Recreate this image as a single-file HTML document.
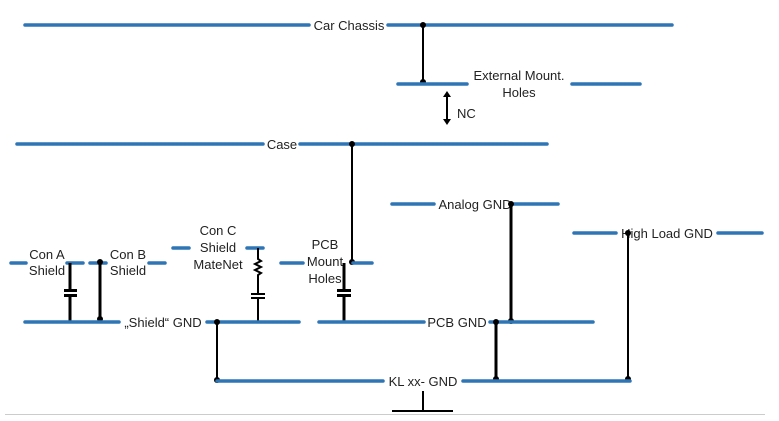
<!DOCTYPE html>
<html><head><meta charset="utf-8"><style>
html,body{margin:0;padding:0;background:#fff;width:779px;height:421px;overflow:hidden}
svg{display:block}
text{font-family:"Liberation Sans",sans-serif;font-size:13px;fill:#222}
.b{stroke:#2e75b6;stroke-width:3.5;fill:none;stroke-linecap:round}
.k{stroke:#000;stroke-width:2;fill:none}
.K{stroke:#000;stroke-width:3;fill:none}
</style></head><body>
<svg width="779" height="421" viewBox="0 0 779 421">
<!-- Car chassis -->
<line class="b" x1="25" y1="25" x2="309" y2="25"/><line class="b" x1="388" y1="25" x2="672" y2="25"/>
<text x="349" y="30" text-anchor="middle">Car Chassis</text>
<line class="k" x1="423" y1="25" x2="423" y2="82"/>
<circle cx="423" cy="25" r="3"/><circle cx="423" cy="82" r="3"/>
<!-- External mount -->
<line class="b" x1="398" y1="84" x2="467" y2="84"/><line class="b" x1="572" y1="84" x2="640" y2="84"/>
<text x="519" y="80" text-anchor="middle">External Mount.</text>
<text x="519" y="97" text-anchor="middle">Holes</text>
<line class="k" x1="447" y1="96" x2="447" y2="120"/>
<polygon points="443,97 451,97 447,91"/><polygon points="443,119 451,119 447,125"/>
<text x="457" y="118">NC</text>
<!-- Case -->
<line class="b" x1="17" y1="144" x2="263" y2="144"/><line class="b" x1="300" y1="144" x2="547" y2="144"/>
<text x="282" y="149" text-anchor="middle">Case</text>
<line class="k" x1="352" y1="144" x2="352" y2="262"/>
<circle cx="352" cy="144" r="3"/><circle cx="352" cy="262" r="3"/>
<!-- Analog -->
<line class="b" x1="392" y1="204" x2="434" y2="204"/><line class="b" x1="514" y1="204" x2="558" y2="204"/>
<text x="475" y="209" text-anchor="middle">Analog GND</text>
<line class="K" x1="511" y1="204" x2="511" y2="321"/>
<circle cx="511" cy="204" r="3"/><circle cx="511" cy="321" r="3"/>
<!-- High load -->
<line class="b" x1="574" y1="233" x2="616" y2="233"/><line class="b" x1="718" y1="233" x2="762" y2="233"/>
<text x="667" y="238" text-anchor="middle">High Load GND</text>
<line class="k" x1="628" y1="233" x2="628" y2="379"/>
<circle cx="628" cy="233" r="3"/><circle cx="628" cy="379" r="3"/>
<!-- Con A / B -->
<line class="b" x1="11" y1="263" x2="26" y2="263"/><line class="b" x1="67" y1="263" x2="83" y2="263"/>
<line class="b" x1="90" y1="263" x2="106" y2="263"/><line class="b" x1="149" y1="263" x2="165" y2="263"/>
<text x="47" y="259" text-anchor="middle">Con A</text><text x="47" y="275" text-anchor="middle">Shield</text>
<text x="128" y="259" text-anchor="middle">Con B</text><text x="128" y="275" text-anchor="middle">Shield</text>
<line class="K" x1="70" y1="263" x2="70" y2="290"/><line class="K" x1="70" y1="296" x2="70" y2="322"/>
<rect x="64" y="289" width="13" height="3"/><rect x="64" y="294" width="13" height="3"/>
<line class="K" x1="100" y1="262" x2="100" y2="319"/>
<circle cx="100" cy="262" r="3"/><circle cx="100" cy="319" r="3"/>
<!-- Con C -->
<line class="b" x1="173" y1="248" x2="189" y2="248"/><line class="b" x1="247" y1="248" x2="263" y2="248"/>
<text x="218" y="235" text-anchor="middle">Con C</text><text x="218" y="252" text-anchor="middle">Shield</text><text x="218" y="269" text-anchor="middle">MateNet</text>
<polyline class="k" points="258,248 258,259 261,261 255,264 261,267 255,270 261,273 258,275 258,293"/>
<rect x="251" y="293" width="14" height="2"/><rect x="251" y="297" width="14" height="2"/>
<line class="k" x1="258" y1="299" x2="258" y2="322"/>
<!-- PCB mount -->
<line class="b" x1="281" y1="263" x2="303" y2="263"/><line class="b" x1="353" y1="263" x2="372" y2="263"/>
<text x="325" y="249" text-anchor="middle">PCB</text><text x="325" y="266" text-anchor="middle">Mount</text><text x="325" y="283" text-anchor="middle">Holes</text>
<line class="K" x1="344" y1="263" x2="344" y2="290"/><line class="K" x1="344" y1="296" x2="344" y2="322"/>
<rect x="337" y="289" width="14" height="3"/><rect x="337" y="294" width="14" height="3"/>
<!-- Shield GND / PCB GND -->
<line class="b" x1="25" y1="322" x2="119" y2="322"/><line class="b" x1="207" y1="322" x2="299" y2="322"/>
<text x="163" y="327" text-anchor="middle">„Shield“ GND</text>
<line class="b" x1="319" y1="322" x2="424" y2="322"/><line class="b" x1="490" y1="322" x2="593" y2="322"/>
<text x="457" y="327" text-anchor="middle">PCB GND</text>
<line class="k" x1="217" y1="322" x2="217" y2="380"/>
<circle cx="217" cy="322" r="3"/><circle cx="217" cy="380" r="3"/>
<line class="K" x1="496" y1="322" x2="496" y2="379"/>
<circle cx="496" cy="322" r="3"/><circle cx="496" cy="379" r="3"/>
<!-- KL -->
<line class="b" x1="217" y1="381" x2="383" y2="381"/><line class="b" x1="463" y1="381" x2="630" y2="381"/>
<text x="423" y="386" text-anchor="middle">KL xx- GND</text>
<line class="k" x1="423" y1="391" x2="423" y2="411"/>
<line class="k" x1="392" y1="411" x2="453" y2="411"/>
<line x1="5" y1="414.5" x2="765" y2="414.5" stroke="#ccc" stroke-width="1"/>
</svg>
</body></html>
